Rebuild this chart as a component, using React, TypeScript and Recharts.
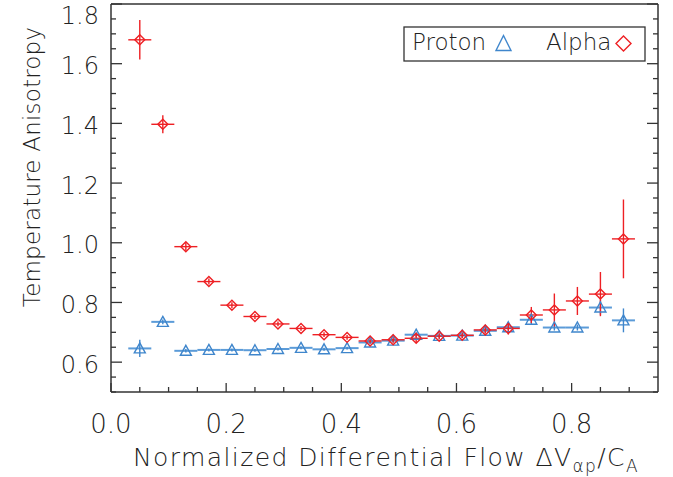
import React from "react";
import {
  ScatterChart,
  Scatter,
  XAxis,
  YAxis,
  ErrorBar,
  Legend,
} from "recharts";

// bin centres of the normalized differential flow
const flow = [
  0.05, 0.09, 0.13, 0.17, 0.21, 0.25, 0.29, 0.33, 0.37, 0.41, 0.45, 0.49,
  0.53, 0.57, 0.61, 0.65, 0.69, 0.73, 0.77, 0.81, 0.85, 0.89,
];
const binHalfWidth = 0.02;

const proton = [
  0.646, 0.735, 0.638, 0.641, 0.641, 0.64, 0.644, 0.648, 0.643, 0.647, 0.666,
  0.672, 0.692, 0.688, 0.689, 0.705, 0.717, 0.742, 0.716, 0.716, 0.783, 0.74,
];
const protonErr = [
  0.029, 0.008, 0.006, 0.005, 0.005, 0.005, 0.005, 0.005, 0.005, 0.005, 0.006,
  0.006, 0.008, 0.008, 0.008, 0.008, 0.01, 0.015, 0.01, 0.01, 0.024, 0.04,
];

const alpha = [
  1.68, 1.397, 0.987, 0.87, 0.791, 0.753, 0.728, 0.713, 0.692, 0.683, 0.671,
  0.675, 0.68, 0.687, 0.69, 0.708, 0.713, 0.758, 0.775, 0.805, 0.828, 1.013,
];
const alphaErr = [
  0.066, 0.03, 0.014, 0.01, 0.01, 0.008, 0.008, 0.008, 0.008, 0.008, 0.008,
  0.01, 0.014, 0.01, 0.01, 0.012, 0.02, 0.027, 0.055, 0.047, 0.074, 0.132,
];

const xTicks = [
  0, 0.05, 0.1, 0.15, 0.2, 0.25, 0.3, 0.35, 0.4, 0.45, 0.5, 0.55, 0.6, 0.65,
  0.7, 0.75, 0.8, 0.85, 0.9,
];
const yTicks = [
  0.5, 0.55, 0.6, 0.65, 0.7, 0.75, 0.8, 0.85, 0.9, 0.95, 1.0, 1.05, 1.1, 1.15,
  1.2, 1.25, 1.3, 1.35, 1.4, 1.45, 1.5, 1.55, 1.6, 1.65, 1.7, 1.75, 1.8,
];

const protonData = flow.map((x, i) => ({
  x,
  y: proton[i],
  xErr: binHalfWidth,
  yErr: protonErr[i],
}));
const alphaData = flow.map((x, i) => ({
  x,
  y: alpha[i],
  xErr: binHalfWidth,
  yErr: alphaErr[i],
}));

const RED = "#ee2024";
const BLUE = "#3f86cc";
const FRAME = "#333";
const FONT = "'DejaVu Sans', sans-serif";
const TEXT = "#222";

const isMajor = (v: number) => {
  const r = v / 0.2;
  return Math.abs(r - Math.round(r)) < 1e-6;
};

const BottomTick = ({ x, y, payload }: any) => {
  const major = isMajor(payload.value);
  return (
    <g>
      <line x1={x} x2={x} y1={y} y2={y - (major ? 9 : 5)} stroke={FRAME} strokeWidth={1.3} />
      {major && (
        <text x={x} y={y + 41} textAnchor="middle" fontSize={26} fontFamily={FONT} fontWeight={200} fill={TEXT}>
          {payload.value.toFixed(1)}
        </text>
      )}
    </g>
  );
};

const TopTick = ({ x, y, payload }: any) => {
  const major = isMajor(payload.value);
  return <line x1={x} x2={x} y1={y} y2={y + (major ? 9 : 5)} stroke={FRAME} strokeWidth={1.3} />;
};

const LeftTick = ({ x, y, payload }: any) => {
  const major = isMajor(payload.value);
  const shift = payload.value > 1.79 ? 20 : 10.5;
  return (
    <g>
      <line x1={x} x2={x + (major ? 11 : 5)} y1={y} y2={y} stroke={FRAME} strokeWidth={1.3} />
      {major && (
        <text x={x - 12} y={y + shift} textAnchor="end" fontSize={24} fontFamily={FONT} fontWeight={200} fill={TEXT}>
          {payload.value.toFixed(1)}
        </text>
      )}
    </g>
  );
};

const RightTick = ({ x, y, payload }: any) => {
  const major = isMajor(payload.value);
  return <line x1={x} x2={x - (major ? 11 : 5)} y1={y} y2={y} stroke={FRAME} strokeWidth={1.3} />;
};

const Triangle = ({ cx, cy }: any) => (
  <path
    d={`M${cx},${cy - 5.5} L${cx + 5.5},${cy + 4.5} L${cx - 5.5},${cy + 4.5} Z`}
    fill="none"
    stroke={BLUE}
    strokeWidth={1.4}
  />
);

const Diamond = ({ cx, cy }: any) => (
  <path
    d={`M${cx},${cy - 5} L${cx + 5},${cy} L${cx},${cy + 5} L${cx - 5},${cy} Z`}
    fill="none"
    stroke={RED}
    strokeWidth={1.4}
  />
);

const LegendBox = () => (
  <svg width={243} height={36}>
    <rect x={1} y={1} width={241} height={34} fill="#fff" stroke={FRAME} strokeWidth={1.3} />
    <text x={9} y={24} fontSize={23} fontFamily={FONT} fontWeight={200} fill={TEXT}>
      Proton
    </text>
    <path d="M100.5,9.5 L108,24.5 L93,24.5 Z" fill="none" stroke={BLUE} strokeWidth={1.4} />
    <text x={143} y={24} fontSize={23} fontFamily={FONT} fontWeight={200} fill={TEXT}>
      Alpha
    </text>
    <path d="M220.5,10 L228,17.5 L220.5,25 L213,17.5 Z" fill="none" stroke={RED} strokeWidth={1.4} />
  </svg>
);

export default function App() {
  return (
    <div style={{ position: "absolute", left: 0, top: 0, width: 673, height: 477, background: "#fff" }}>
      <ScatterChart width={673} height={477} margin={{ top: 0, right: 0, bottom: 0, left: 0 }}>
        <XAxis
          xAxisId={0}
          type="number"
          dataKey="x"
          domain={[0, 0.95]}
          ticks={xTicks}
          interval={0}
          height={85}
          tickSize={0}
          tickMargin={0}
          tickLine={false}
          axisLine={{ stroke: FRAME, strokeWidth: 1.5 }}
          tick={<BottomTick />}
          allowDataOverflow
        />
        <XAxis
          xAxisId="top"
          orientation="top"
          type="number"
          domain={[0, 0.95]}
          ticks={xTicks}
          interval={0}
          height={4}
          tickSize={0}
          tickMargin={0}
          tickLine={false}
          axisLine={{ stroke: FRAME, strokeWidth: 1.5 }}
          tick={<TopTick />}
          allowDataOverflow
        />
        <YAxis
          yAxisId={0}
          type="number"
          dataKey="y"
          domain={[0.5, 1.8]}
          ticks={yTicks}
          interval={0}
          width={111}
          tickSize={0}
          tickMargin={0}
          tickLine={false}
          axisLine={{ stroke: FRAME, strokeWidth: 1.5 }}
          tick={<LeftTick />}
          allowDataOverflow
        />
        <YAxis
          yAxisId="right"
          orientation="right"
          type="number"
          domain={[0.5, 1.8]}
          ticks={yTicks}
          interval={0}
          width={15}
          tickSize={0}
          tickMargin={0}
          tickLine={false}
          axisLine={{ stroke: FRAME, strokeWidth: 1.5 }}
          tick={<RightTick />}
          allowDataOverflow
        />
        <Legend
          layout="vertical"
          align="center"
          verticalAlign="middle"
          content={() => <LegendBox />}
          wrapperStyle={{ left: 403, top: 26, width: 243, height: 36 }}
        />
        <Scatter data={protonData} shape={<Triangle />} isAnimationActive={false}>
          <ErrorBar dataKey="xErr" direction="x" width={0} stroke="#5b9bd8" strokeWidth={2} />
          <ErrorBar dataKey="yErr" direction="y" width={0} stroke={BLUE} strokeWidth={1.4} />
        </Scatter>
        <Scatter data={alphaData} shape={<Diamond />} isAnimationActive={false}>
          <ErrorBar dataKey="xErr" direction="x" width={0} stroke={RED} strokeWidth={1.4} />
          <ErrorBar dataKey="yErr" direction="y" width={0} stroke={RED} strokeWidth={1.4} />
        </Scatter>
      </ScatterChart>
      <svg width={673} height={477} style={{ position: "absolute", left: 0, top: 0, pointerEvents: "none" }}>
        <text
          x={40}
          y={167}
          transform="rotate(-90, 40, 167)"
          textAnchor="middle"
          fontSize={23}
          fontFamily={FONT}
          fontWeight={200}
          letterSpacing={0.2}
          fill={TEXT}
        >
          Temperature Anisotropy
        </text>
        <text x={386} y={466} textAnchor="middle" fontSize={25} fontFamily={FONT} fontWeight={200} letterSpacing={1.4} fill={TEXT}>
          Normalized Differential Flow ΔV
          <tspan fontSize={17} dy={6}>αp</tspan>
          <tspan dy={-6}>/C</tspan>
          <tspan fontSize={17} dy={6}>A</tspan>
        </text>
      </svg>
    </div>
  );
}
